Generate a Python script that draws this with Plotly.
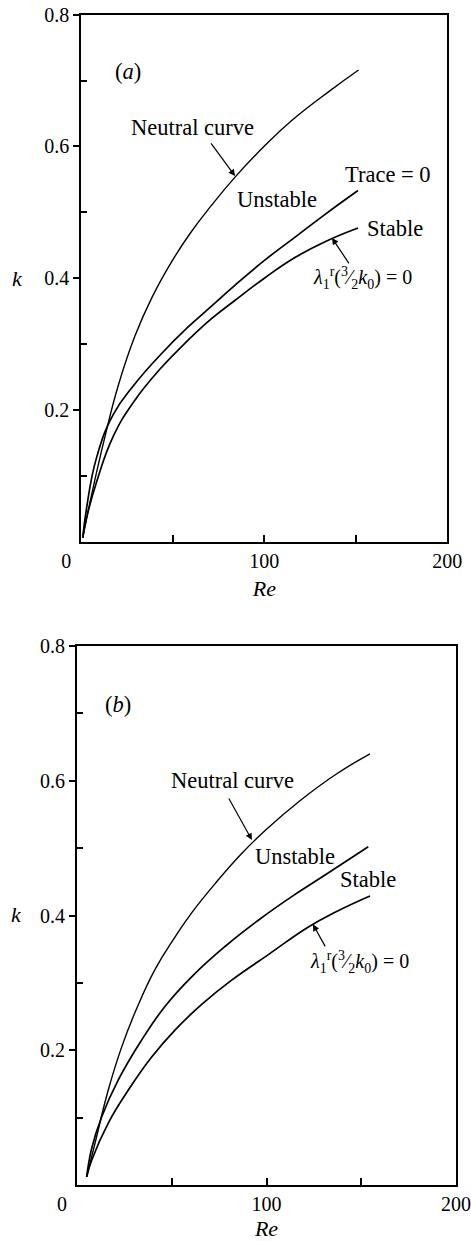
import plotly.graph_objects as go

# ---------------- data ----------------
# Panel (a)
re_neutral_a = [0.8, 5.7, 13.0, 20.2, 29.3, 38.5, 49.4, 60.0, 71.0, 83.9, 100.6, 115.3, 135.6, 151.5]
k_neutral_a = [0.006, 0.072, 0.160, 0.237, 0.312, 0.370, 0.425, 0.470, 0.510, 0.553, 0.602, 0.640, 0.684, 0.716]

re_trace_a = [0.8, 2.8, 8.3, 17.5, 28.6, 43.4, 58.1, 71.0, 83.9, 100.6, 117.2, 133.8, 151.2]
k_trace_a = [0.006, 0.049, 0.127, 0.193, 0.237, 0.284, 0.325, 0.357, 0.389, 0.428, 0.463, 0.498, 0.533]

re_lambda_a = [0.8, 2.8, 8.3, 17.5, 28.6, 43.4, 58.1, 71.0, 83.9, 100.6, 117.2, 133.8, 151.2]
k_lambda_a = [0.006, 0.035, 0.090, 0.160, 0.212, 0.263, 0.305, 0.338, 0.366, 0.401, 0.432, 0.456, 0.476]

# Panel (b)
re_neutral_b = [5.1, 9.5, 16.5, 23.6, 31.5, 41.2, 51.7, 60.5, 72.8, 86.9, 100.0, 117.5, 136.9, 154.6]
k_neutral_b = [0.012, 0.062, 0.141, 0.205, 0.262, 0.320, 0.368, 0.404, 0.447, 0.492, 0.528, 0.570, 0.610, 0.640]

re_trace_b = [5.1, 7.8, 13.0, 21.8, 34.1, 46.4, 60.5, 78.1, 95.7, 113.3, 130.9, 153.7]
k_trace_b = [0.012, 0.055, 0.101, 0.156, 0.215, 0.265, 0.309, 0.354, 0.393, 0.428, 0.460, 0.502]

re_lambda_b = [5.1, 7.8, 16.5, 27.1, 39.4, 51.7, 65.8, 81.6, 101.0, 122.1, 137.0, 154.6]
k_lambda_b = [0.012, 0.037, 0.092, 0.141, 0.190, 0.230, 0.268, 0.304, 0.342, 0.383, 0.406, 0.429]

x_tickvals = [0, 100, 200]
x_ticktext = ["0\u2003\u2002", "100", "200"]
x_minor = [50, 150]
y_tickvals = [0.2, 0.4, 0.6, 0.8]
y_ticktext = ["0.2", "0.4", "0.6", "0.8"]
y_minor = [0.1, 0.3, 0.5, 0.7]

lam_label = "<i>λ</i><sub>1</sub><sup>r</sup>(<sup>3</sup>⁄<sub>2</sub><i>k</i><sub>0</sub>) = 0"

FONT = "Liberation Serif"
W, H = 471, 1241

fig = go.Figure()

def add_curve(x, y, xa, ya, w):
    fig.add_trace(go.Scatter(x=x, y=y, mode="lines", xaxis=xa, yaxis=ya,
                             line=dict(color="black", width=w, shape="spline", smoothing=1.3),
                             hoverinfo="skip", showlegend=False))

add_curve(re_neutral_a, k_neutral_a, "x", "y", 1.4)
add_curve(re_trace_a, k_trace_a, "x", "y", 1.7)
add_curve(re_lambda_a, k_lambda_a, "x", "y", 1.7)
add_curve(re_neutral_b, k_neutral_b, "x2", "y2", 1.4)
add_curve(re_trace_b, k_trace_b, "x2", "y2", 1.7)
add_curve(re_lambda_b, k_lambda_b, "x2", "y2", 1.7)

tickfont = dict(family=FONT, size=20, color="black")

def xaxis(domain, anchor, standoff):
    return dict(domain=domain, anchor=anchor, range=[0, 200],
                tickmode="array", tickvals=x_tickvals, ticktext=x_ticktext,
                ticks="inside", ticklen=7, tickwidth=1.5, tickcolor="black",
                minor=dict(tickmode="array", tickvals=x_minor, ticks="inside", ticklen=7,
                           tickwidth=1.5, tickcolor="black", showgrid=False),
                showline=True, linewidth=2, linecolor="black", mirror=True,
                showgrid=False, zeroline=False, tickfont=tickfont,
                title=dict(text="<i>Re</i>", font=dict(family=FONT, size=22, color="black"),
                           standoff=standoff),
                automargin=False, fixedrange=True)

def yaxis(domain, anchor):
    return dict(domain=domain, anchor=anchor, range=[0, 0.8],
                tickmode="array", tickvals=y_tickvals, ticktext=y_ticktext,
                ticks="outside", ticklen=6, tickwidth=1.5, tickcolor="black",
                minor=dict(tickmode="array", tickvals=y_minor, ticks="inside", ticklen=6,
                           tickwidth=1.5, tickcolor="black", showgrid=False),
                showline=True, linewidth=2, linecolor="black", mirror=True,
                showgrid=False, zeroline=False, tickfont=tickfont,
                automargin=False, fixedrange=True)

fig.update_layout(
    width=W, height=H,
    margin=dict(l=0, r=0, t=0, b=0),
    paper_bgcolor="white", plot_bgcolor="white",
    showlegend=False, hovermode=False,
    xaxis=xaxis([81.3 / W, 447.3 / W], "y", 10),
    yaxis=yaxis([1 - 541.5 / H, 1 - 14.7 / H], "x"),
    xaxis2=xaxis([77 / W, 456 / W], "y2", 8),
    yaxis2=yaxis([1 - 1185 / H, 1 - 646 / H], "x2"),
)

def text(x, y, s, xref, yref, size=22.5):
    fig.add_annotation(x=x, y=y, text=s, xref=xref, yref=yref, showarrow=False,
                       font=dict(family=FONT, size=size, color="black"),
                       xanchor="center", yanchor="middle")

def arrow(x, y, ax, ay, xref, yref):
    fig.add_annotation(x=x, y=y, ax=ax, ay=ay, xref=xref, yref=yref, axref=xref, ayref=yref,
                       text="", showarrow=True, arrowhead=2, arrowsize=1.1, arrowwidth=1.2,
                       arrowcolor="black")

# panel (a) labels
text(25.5, 0.713, "(<i>a</i>)", "x", "y")
text(60.5, 0.629, "Neutral curve", "x", "y")
text(106.9, 0.520, "Unstable", "x", "y")
text(167.6, 0.557, "Trace = 0", "x", "y")
text(171.4, 0.476, "Stable", "x", "y")
text(153.9, 0.400, lam_label, "x", "y", 20)
arrow(84.0, 0.555, 70.3, 0.607, "x", "y")
arrow(137.0, 0.461, 146.8, 0.420, "x", "y")
text(17 / W, 1 - 278 / H, "<i>k</i>", "paper", "paper", 22)

# panel (b) labels
text(21.6, 0.713, "(<i>b</i>)", "x2", "y2")
text(82.3, 0.601, "Neutral curve", "x2", "y2")
text(115.0, 0.488, "Unstable", "x2", "y2")
text(153.6, 0.453, "Stable", "x2", "y2")
text(149.3, 0.331, lam_label, "x2", "y2", 20)
arrow(92.3, 0.512, 79.7, 0.576, "x2", "y2")
arrow(124.5, 0.387, 131.4, 0.352, "x2", "y2")
text(16 / W, 1 - 915 / H, "<i>k</i>", "paper", "paper", 22)

fig.write_html("out.html")
